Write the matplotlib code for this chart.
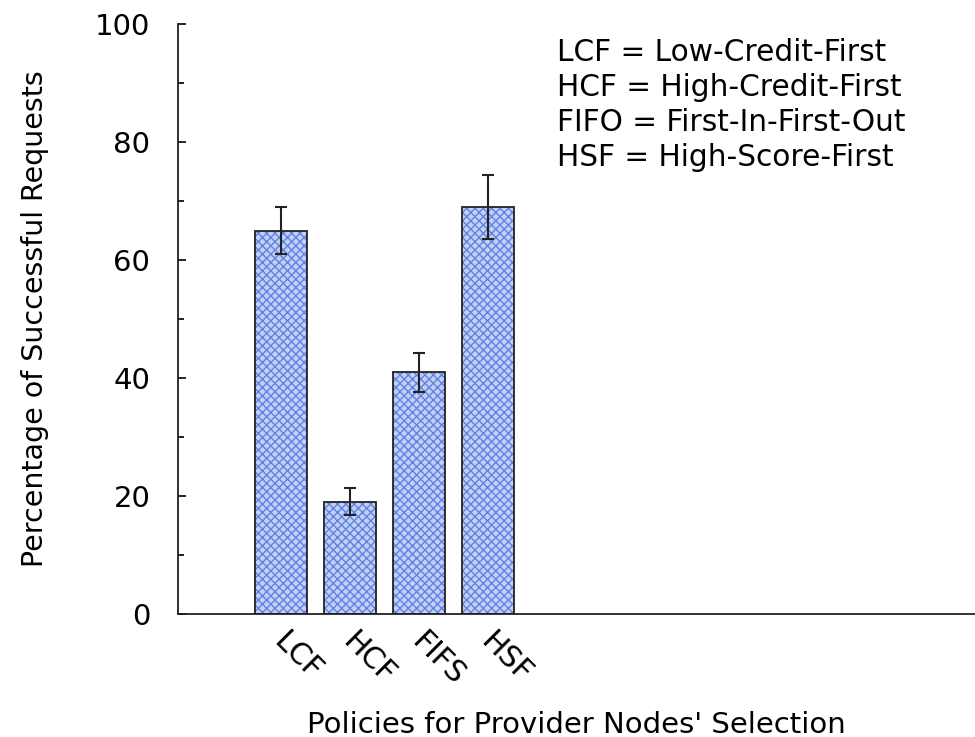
import matplotlib
matplotlib.use("Agg")
import matplotlib.pyplot as plt
import matplotlib.transforms as mtransforms
import numpy as np
from matplotlib.ticker import MultipleLocator

# ── Data ─────────────────────────────────────────────────────────
policies = ["LCF", "HCF", "FIFS", "HSF"]
success  = [65.0, 19.0, 41.0, 69.0]
err_low  = [4.0, 2.3, 3.3, 5.4]
err_high = [4.0, 2.3, 3.3, 5.4]
legend_lines = [
    "LCF = Low-Credit-First",
    "HCF = High-Credit-First",
    "FIFO = First-In-First-Out",
    "HSF = High-Score-First",
]

plt.rcParams['font.family'] = ['DejaVu Sans']
plt.rcParams['hatch.linewidth'] = 1.0

fig = plt.figure(figsize=(9.75, 7.37), dpi=100)
ax = fig.add_axes([0.1826, 0.1669, 0.8174, 0.8005])

x = np.arange(1, len(policies) + 1)
# hatched fill, then black outline on top
ax.bar(x, success, width=0.75, color='#c3d0f6', edgecolor='#6282e2',
       hatch='xxxx', linewidth=0, zorder=2)
ax.bar(x, success, width=0.75, fill=False, edgecolor='#222222',
       linewidth=1.3, zorder=3)
ax.errorbar(x, success, yerr=[err_low, err_high], fmt='none',
            ecolor='#222222', elinewidth=1.5, capsize=4, capthick=1.5, zorder=4)

ax.set_xlim(-0.49, 11.06)
ax.set_ylim(0, 100)
ax.set_xticks(x)
ax.set_xticklabels(policies, rotation=-45, ha='left', va='top',
                   rotation_mode='anchor', fontsize=21.5)
ax.tick_params(axis='x', length=0, pad=9)
shift = mtransforms.ScaledTranslation(8 / 100, 0, fig.dpi_scale_trans)
for lbl in ax.get_xticklabels():
    lbl.set_transform(lbl.get_transform() + shift)

ax.yaxis.set_major_locator(MultipleLocator(20))
ax.yaxis.set_minor_locator(MultipleLocator(10))
ax.tick_params(axis='y', which='major', direction='in', length=6, width=1.2,
               labelsize=21, pad=20)
ax.tick_params(axis='y', which='minor', direction='in', length=4, width=1.2)

for side in ['top', 'right']:
    ax.spines[side].set_visible(False)
for side in ['left', 'bottom']:
    ax.spines[side].set_linewidth(1.3)
    ax.spines[side].set_color('#222222')

ax.set_ylabel("Percentage of Successful Requests", fontsize=20.5)
ax.yaxis.set_label_coords(-0.162, 0.5)
ax.set_xlabel("Policies for Provider Nodes' Selection", fontsize=21)
ax.xaxis.set_label_coords(0.5, -0.164)

ax.text(0.4755, 0.977, "\n".join(legend_lines), transform=ax.transAxes,
        fontsize=21.3, va='top', ha='left', linespacing=1.26)

fig.savefig("out.png", dpi=100)
